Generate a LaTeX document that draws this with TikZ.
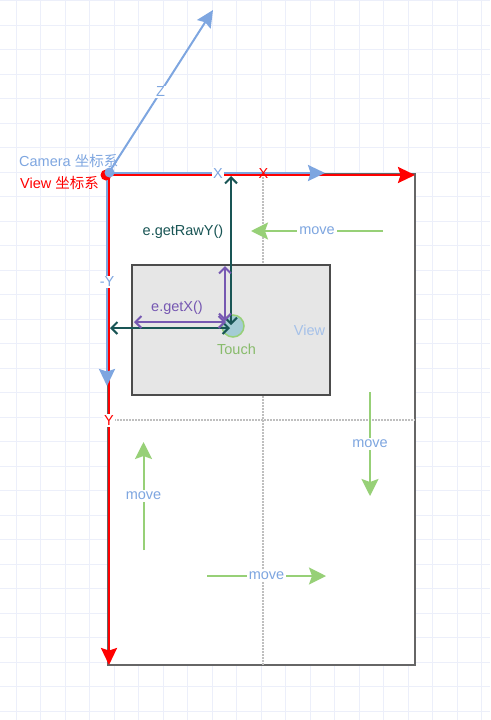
\documentclass[tikz,border=0pt]{standalone}
\usepackage{fontspec}
\setmainfont{Liberation Sans}
\newfontfamily\cjk{Noto Sans CJK SC}
\usepackage{tikz}
\usetikzlibrary{arrows.meta}
\usepackage{xcolor}
\definecolor{gridline}{RGB}{236,239,250}
\definecolor{axisblue}{RGB}{126,166,224}
\definecolor{axisred}{RGB}{255,0,0}
\definecolor{rawteal}{RGB}{25,85,85}
\definecolor{getpurple}{RGB}{118,88,178}
\definecolor{movegreen}{RGB}{151,208,119}
\definecolor{viewgray}{RGB}{230,230,230}
\definecolor{touchfill}{RGB}{164,204,212}
\tikzstyle{axisarrow} = [line width=2.5pt, -{Stealth[length=17pt,width=16pt,inset=2.5pt]}]
\tikzstyle{movearrow} = [line width=2pt, color=movegreen, -{Stealth[length=17pt,width=17pt,inset=3pt]}]
\tikzstyle{movelabel} = [fill=white, text=axisblue, inner sep=2pt]
\tikzstyle{axislabel} = [fill=white, inner sep=1.5pt]
\tikzstyle{getarrow} = [line width=2pt, {Straight Barb[length=6pt,width=12pt]}-{Straight Barb[length=6pt,width=12pt]}]
\tikzstyle{guide} = [line width=1.5pt, color=black!25, dash pattern=on 1.5pt off 1.5pt]

\begin{document}
\begin{tikzpicture}[x=1pt, y=-1pt, font=\fontsize{14.5}{17}\selectfont]
\useasboundingbox (0,0) rectangle (490,720);
% Grid
\foreach \gx in {0,...,19} \draw[gridline, line width=1pt] (16.3+24.5*\gx,0) -- (16.3+24.5*\gx,720);
\foreach \gy in {0,...,29} \draw[gridline, line width=1pt] (0,0.5+24.5*\gy) -- (490,0.5+24.5*\gy);

% Screen and guides
\node[draw=black!60, fill=white, line width=2pt, outer sep=0pt, minimum width=307pt, minimum height=491pt] (screen) at (261.5,419.5) {};
\coordinate (gtop) at (263,174);
\coordinate (gbot) at (263,665);
\coordinate (gleft) at (108,420);
\coordinate (gright) at (415,420);
\draw[guide] (gtop) -- (gbot);
\draw[guide] (gleft) -- (gright);

% View and touch
\node[draw=black!70, fill=viewgray, line width=1.5pt, minimum width=198pt, minimum height=130pt] (view) at (231,330) {};
\node[text=axisblue!70] (viewlbl) at (309.5,330) {View};
\node[circle, draw=movegreen, fill=touchfill, line width=1.5pt, minimum size=22pt, inner sep=0pt] (touch) at (233,326) {};
\node[text=movegreen!90!black] (touchlbl) at (236.5,349) {Touch};

% Raw and local offsets
\coordinate (rawtop) at (231,176);
\coordinate (rawbot) at (231,325);
\coordinate (rawleft) at (110,328);
\coordinate (rawright) at (230,328);
\draw[getarrow, rawteal] (rawbot) -- (rawtop);
\draw[getarrow, rawteal] (rawright) -- (rawleft);
\node[text=rawteal] (rawlbl) at (183,232) {e.getRawY()};
\coordinate (gettop) at (225,266);
\coordinate (getbot) at (225,321);
\coordinate (getleft) at (134,322);
\coordinate (getright) at (226,322);
\draw[getarrow, getpurple] (getbot) -- (gettop);
\draw[getarrow, getpurple] (getleft) -- (getright);
\node[text=getpurple] (getlbl) at (177,308) {e.getX()};

% Move arrows
\coordinate (m1a) at (383,231); \coordinate (m1b) at (251,231);
\coordinate (m2a) at (370,392); \coordinate (m2b) at (370,496);
\coordinate (m3a) at (143.5,550); \coordinate (m3b) at (143.5,442);
\coordinate (m4a) at (207,576); \coordinate (m4b) at (326,576);
\draw[movearrow] (m1a) -- node[movelabel, pos=0.5] (mv1) {move} (m1b);
\draw[movearrow] (m2a) -- node[movelabel, pos=0.5] (mv2) {move} (m2b);
\draw[movearrow] (m3a) -- node[movelabel, pos=0.5] (mv3) {move} (m3b);
\draw[movearrow] (m4a) -- node[movelabel, pos=0.5] (mv4) {move} (m4b);

% Axes
\coordinate (origin) at (108,174);
\coordinate (xblue) at (325,174);
\coordinate (yblue) at (108,386);
\coordinate (zblue) at (213,10);
\draw[axisarrow, axisred] ([yshift=-1pt]screen.north west) -- ([yshift=-1pt]screen.north east);
\draw[axisarrow, axisred] ([xshift=1pt]screen.north west) -- ([xshift=1pt]screen.south west);
\draw[axisarrow, axisblue] ([yshift=1pt]origin) -- ([yshift=1pt]xblue);
\draw[axisarrow, axisblue] ([xshift=-1pt]origin) -- ([xshift=-1pt]yblue);
\draw[axisarrow, axisblue, line width=2pt] (origin) -- (zblue);
\fill[axisred] (106,175) circle[radius=5.5];
\fill[axisblue] (109.5,172.5) circle[radius=5];
\node[axislabel, text=axisblue] (xlbl) at (218,173.5) {X};
\node[axislabel, text=axisblue] (ylbl) at (107,282) {-Y};
\node[axislabel, text=axisblue] (zlbl) at (160.5,92) {Z};
\node[inner sep=0pt, text=axisred] (xredlbl) at (263.5,174) {X};
\node[axislabel, text=axisred] (yredlbl) at (109,420.5) {Y};

% Coordinate system names
\node[anchor=west, text=axisblue, inner sep=0pt] (camlbl) at (19,161) {Camera {\cjk 坐标系}};
\node[anchor=west, text=axisred, inner sep=0pt] (viewsys) at (20,183) {View {\cjk 坐标系}};
\end{tikzpicture}
\end{document}
